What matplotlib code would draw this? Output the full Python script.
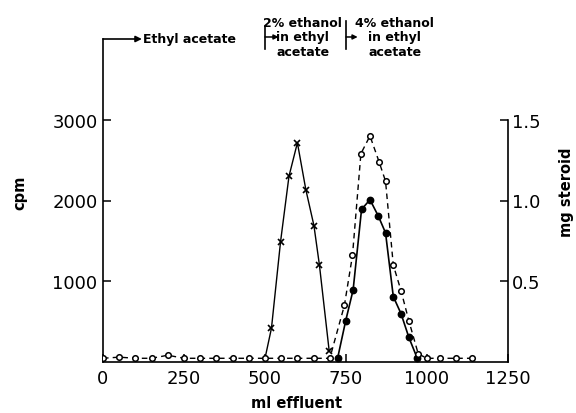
import matplotlib
matplotlib.use("Agg")
import matplotlib.pyplot as plt

# open circles, dashed: mg steroid (right axis)
steroid_ml = [0, 50, 100, 150, 200, 250, 300, 350, 400, 450, 500, 550, 600, 650, 700,
              745, 770, 796, 824, 852, 872, 896, 920, 944, 973, 1000, 1040, 1090, 1140]
steroid_mg = [0.023, 0.03, 0.023, 0.023, 0.042, 0.023, 0.023, 0.023, 0.023, 0.023, 0.023, 0.023, 0.023, 0.023, 0.023,
              0.35, 0.66, 1.29, 1.40, 1.24, 1.12, 0.60, 0.44, 0.255, 0.05, 0.023, 0.023, 0.023, 0.023]

# filled circles, solid: cpm
filled_ml = [724, 749, 772, 798, 824, 850, 872, 896, 920, 944, 970]
filled_cpm = [45, 510, 893, 1890, 2010, 1805, 1600, 810, 597, 305, 45]

# crosses, solid: cpm
cross_ml = [500, 520, 548, 574, 600, 626, 651, 668, 698]
cross_cpm = [45, 420, 1490, 2300, 2715, 2135, 1690, 1200, 140]

x_ticks = [0, 250, 500, 750, 1000, 1250]
cpm_ticks = [1000, 2000, 3000]
mg_ticks = [0.5, 1.0, 1.5]

fig = plt.figure(figsize=(5.76, 4.14), dpi=100)
ax = fig.add_axes([103 / 576, 1 - 363 / 414, 405 / 576, 323 / 414])
ax2 = ax.twinx()

ax.set_xlim(0, 1250)
ax.set_ylim(0, 4000)
ax2.set_ylim(0, 2.0)

ax.plot(cross_ml, cross_cpm, color="k", lw=1.0, marker="x", ms=4.5, mew=1.2,
        markevery=slice(1, None), zorder=3)
ax.plot(filled_ml, filled_cpm, color="k", lw=1.2, marker="o", ms=4.6, zorder=4)
ax2.plot(steroid_ml, steroid_mg, color="k", lw=1.0, ls=(0, (4, 3)), marker="o", ms=4.0,
         mfc="white", mec="k", mew=1.1, zorder=5)

for s in ("top", "right"):
    ax.spines[s].set_visible(False)
for s in ("top", "left", "bottom"):
    ax2.spines[s].set_visible(False)
ax2.spines["right"].set_bounds(0, 1.5)
for sp in (ax.spines["left"], ax.spines["bottom"], ax2.spines["right"]):
    sp.set_linewidth(1.2)

ax.set_xticks(x_ticks)
ax.set_xticklabels([str(v) for v in x_ticks])
ax.set_yticks(cpm_ticks)
ax.set_yticklabels([str(v) for v in cpm_ticks])
ax2.set_yticks(mg_ticks)
ax2.set_yticklabels([f"{v:.1f}" for v in mg_ticks])
ax.tick_params(axis="both", direction="in", length=6, width=1.1, labelsize=13)
ax.tick_params(axis="x", pad=5)
ax.tick_params(axis="y", pad=4)
ax2.tick_params(axis="y", direction="in", length=6, width=1.1, labelsize=13, pad=3)

# axis labels
fig.text(20 / 576, 1 - 193 / 414, "cpm", rotation=90, ha="center", va="center",
         fontsize=10.5, fontweight="bold")
fig.text(566 / 576, 1 - 192 / 414, "mg steroid", rotation=90, ha="center", va="center",
         fontsize=10.5, fontweight="bold")
fig.text(297 / 576, 1 - 404 / 414, "ml effluent", ha="center", va="center",
         fontsize=10.5, fontweight="bold")

# solvent annotations above the plot
ax.annotate("", xy=(120, 4000), xytext=(0, 4000), annotation_clip=False,
            arrowprops=dict(arrowstyle="-|>", lw=1.2, color="k", shrinkA=0, shrinkB=0,
                            mutation_scale=9))
ax.text(124, 4000, "Ethyl acetate", ha="left", va="center", fontsize=9,
        fontweight="bold", clip_on=False)

ax.plot([500, 500], [3876, 4149], color="k", lw=1.2, clip_on=False)
ax.annotate("", xy=(542, 4025), xytext=(500, 4025), annotation_clip=False,
            arrowprops=dict(arrowstyle="-|>", lw=1.1, color="k", shrinkA=0, shrinkB=0,
                            mutation_scale=7))
ax.text(617, 4025, "2% ethanol\nin ethyl\nacetate", ha="center", va="center",
        multialignment="center", fontsize=9, fontweight="bold", linespacing=1.15,
        clip_on=False)

ax.plot([750, 750], [3876, 4223], color="k", lw=1.2, clip_on=False)
ax.annotate("", xy=(786, 4025), xytext=(750, 4025), annotation_clip=False,
            arrowprops=dict(arrowstyle="-|>", lw=1.1, color="k", shrinkA=0, shrinkB=0,
                            mutation_scale=7))
ax.text(901, 4025, "4% ethanol\nin ethyl\nacetate", ha="center", va="center",
        multialignment="center", fontsize=9, fontweight="bold", linespacing=1.15,
        clip_on=False)

fig.savefig("out.png", dpi=100, facecolor="white")
